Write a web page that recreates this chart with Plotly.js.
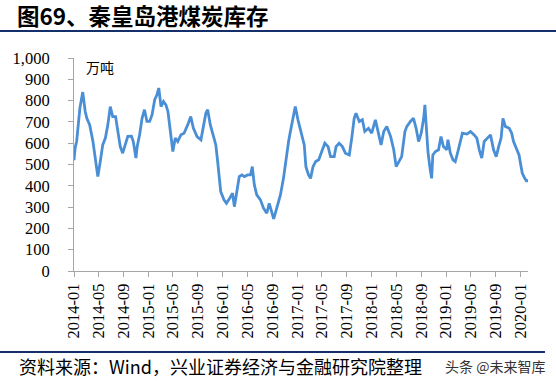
<!DOCTYPE html>
<html>
<head>
<meta charset="utf-8">
<script src="https://cdn.plot.ly/plotly-3.0.1.min.js"></script>
<style>html,body{margin:0;padding:0;background:#fff;}#chart{width:556px;height:384px;}</style>
</head>
<body>
<div id="chart"></div>
<script>
// 秦皇岛港煤炭库存 (万吨), values
const dates = [
"2014-01-01","2014-01-07","2014-01-14","2014-01-30","2014-02-13","2014-02-25","2014-03-05","2014-03-19","2014-04-04","2014-04-16",
"2014-04-28","2014-05-10","2014-05-22","2014-06-04","2014-06-16","2014-06-28","2014-07-10","2014-07-24","2014-08-04","2014-08-16",
"2014-08-28","2014-09-13","2014-09-22","2014-10-10","2014-10-19","2014-11-01","2014-11-07","2014-11-19","2014-12-01","2014-12-13",
"2014-12-25","2015-01-07","2015-01-19","2015-02-01","2015-02-12","2015-02-21","2015-03-04","2015-03-16","2015-03-28","2015-04-07",
"2015-04-19","2015-05-01","2015-05-13","2015-05-25","2015-06-10","2015-06-25","2015-07-13","2015-07-28","2015-08-10","2015-08-28",
"2015-09-16","2015-09-28","2015-10-10","2015-10-19","2015-11-01","2015-11-19","2015-11-28","2015-12-07","2015-12-16","2015-12-22",
"2016-01-07","2016-01-19","2016-02-04","2016-02-18","2016-02-27","2016-03-10","2016-03-22","2016-04-04","2016-04-16","2016-05-01",
"2016-05-16","2016-05-25","2016-06-04","2016-06-16","2016-07-04","2016-07-19","2016-08-04","2016-08-16","2016-08-28","2016-09-07",
"2016-09-22","2016-10-10","2016-10-25","2016-11-07","2016-11-19","2016-11-28","2016-12-10","2016-12-22","2017-01-04","2017-01-19",
"2017-02-04","2017-02-12","2017-02-25","2017-03-07","2017-03-19","2017-04-01","2017-04-16","2017-05-04","2017-05-16","2017-06-01",
"2017-06-13","2017-07-01","2017-07-10","2017-07-25","2017-08-10","2017-08-25","2017-09-13","2017-09-25","2017-10-07","2017-10-16",
"2017-11-01","2017-11-16","2017-11-28","2017-12-16","2018-01-01","2018-01-19","2018-01-28","2018-02-16","2018-03-01","2018-03-16",
"2018-04-04","2018-04-19","2018-05-01","2018-05-13","2018-05-28","2018-06-13","2018-06-22","2018-07-10","2018-07-25","2018-08-07",
"2018-08-19","2018-09-01","2018-09-13","2018-09-19","2018-09-25","2018-10-04","2018-10-13","2018-10-22","2018-10-28","2018-11-10",
"2018-11-25","2018-12-07","2018-12-19","2019-01-04","2019-01-10","2019-01-22","2019-02-04","2019-02-15","2019-02-26","2019-03-10",
"2019-03-22","2019-04-13","2019-05-01","2019-05-19","2019-06-01","2019-06-13","2019-06-25","2019-07-07","2019-07-22","2019-08-07",
"2019-08-22","2019-09-04","2019-09-16","2019-09-28","2019-10-07","2019-10-19","2019-11-07","2019-11-19","2019-11-28","2019-12-13",
"2019-12-25","2020-01-01","2020-01-10","2020-01-22","2020-02-01","2020-02-06"
];
const stock = [
520,580,608,765,840,749,717,686,608,530,
443,514,592,624,686,772,725,725,663,584,
553,600,632,633,608,530,584,640,717,757,
702,702,733,804,827,859,772,796,780,749,
655,561,624,608,640,647,686,725,670,631,
616,670,741,757,686,624,592,514,420,373,
334,318,342,365,302,365,443,451,443,451,
451,490,404,357,334,295,271,318,279,245,
295,357,435,530,608,655,710,772,710,647,
592,490,451,435,490,514,522,569,600,584,
537,537,584,600,584,553,545,624,717,741,
702,710,655,670,647,710,670,592,655,678,
631,569,490,514,537,655,678,702,717,670,
608,647,717,780,686,561,490,435,545,561,
569,631,584,569,616,553,522,514,553,608,
647,643,655,639,624,569,530,608,624,639,
569,537,584,624,717,678,670,647,608,577,
545,506,459,435,420,430
];
const tickDates = ["2014-01-01","2014-05-01","2014-09-01","2015-01-01","2015-05-01","2015-09-01","2016-01-01","2016-05-01","2016-09-01",
"2017-01-01","2017-05-01","2017-09-01","2018-01-01","2018-05-01","2018-09-01","2019-01-01","2019-05-01","2019-09-01","2020-01-01"];
const tickLabels = ["2014-01","2014-05","2014-09","2015-01","2015-05","2015-09","2016-01","2016-05","2016-09",
"2017-01","2017-05","2017-09","2018-01","2018-05","2018-09","2019-01","2019-05","2019-09","2020-01"];
const yTicks = [0,100,200,300,400,500,600,700,800,900,1000];
const yLabels = ["0","100","200","300","400","500","600","700","800","900","1,000"];

const serif = "Liberation Serif, Times New Roman, serif";
const cjk = "Noto Sans CJK SC, sans-serif";

const trace = {
  x: dates, y: stock, type: "scatter", mode: "lines",
  line: {color: "#4a8fd6", width: 2.8},
  hoverinfo: "skip"
};

const layout = {
  width: 556, height: 384,
  margin: {l: 74, r: 28, t: 58, b: 113},
  paper_bgcolor: "#fff", plot_bgcolor: "#fff",
  showlegend: false,
  title: {
    text: "<b>图69、秦皇岛港煤炭库存</b>",
    font: {family: cjk, size: 22.5, color: "#000"},
    xref: "container", yref: "container",
    x: 17/556, xanchor: "left", y: 1 - 17/384, yanchor: "middle"
  },
  xaxis: {
    type: "date",
    range: ["2014-01-01", "2020-02-07"],
    tickmode: "array", tickvals: tickDates, ticktext: tickLabels,
    tickangle: -90,
    tickfont: {family: serif, size: 16.5, color: "#000"},
    ticks: "outside", ticklen: 5, tickcolor: "#a6a6a6",
    showline: true, linecolor: "#a6a6a6", linewidth: 1,
    showgrid: false, zeroline: false,
    fixedrange: true
  },
  yaxis: {
    range: [0, 1000],
    tickmode: "array", tickvals: yTicks, ticktext: yLabels,
    tickfont: {family: serif, size: 16.5, color: "#000"},
    ticks: "outside", ticklen: 5, tickcolor: "#a6a6a6",
    ticklabelstandoff: 15,
    showline: true, linecolor: "#a6a6a6", linewidth: 1,
    showgrid: false, zeroline: false,
    fixedrange: true
  },
  shapes: [
    {type: "line", xref: "paper", yref: "paper", x0: -74/454, x1: 482/454, y0: (271-31)/213, y1: (271-31)/213,
     line: {color: "#14306b", width: 2}},
    {type: "line", xref: "paper", yref: "paper", x0: -74/454, x1: (545-74)/454, y0: (271-352)/213, y1: (271-352)/213,
     line: {color: "#14306b", width: 2}}
  ],
  annotations: [
    {text: "万吨", xref: "paper", yref: "paper", x: (84-74)/454, y: (271-67)/213, xanchor: "left", yanchor: "middle",
     showarrow: false, font: {family: cjk, size: 14, color: "#000"}},
    {text: "资料来源：Wind，兴业证券经济与金融研究院整理", xref: "paper", yref: "paper",
     x: (17-74)/454, y: (271-366)/213, xanchor: "left", yanchor: "middle",
     showarrow: false, font: {family: cjk, size: 18, color: "#000"}},
    {text: "头条 @未来智库", xref: "paper", yref: "paper",
     x: (547-74)/454, y: (271-366)/213, xanchor: "right", yanchor: "middle",
     showarrow: false, font: {family: cjk, size: 14, color: "#333"}}
  ]
};

Plotly.newPlot("chart", [trace], layout, {staticPlot: true, displayModeBar: false});
</script>
</body>
</html>
